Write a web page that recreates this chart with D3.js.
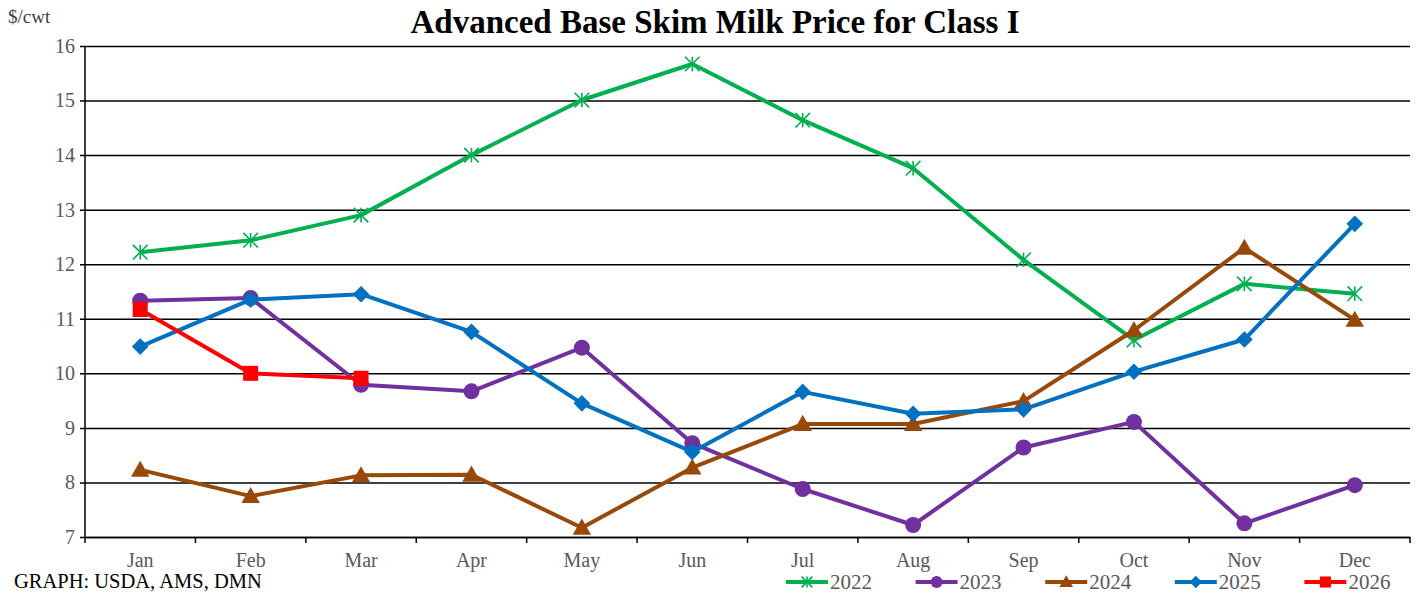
<!DOCTYPE html>
<html><head><meta charset="utf-8">
<script src="https://cdn.jsdelivr.net/npm/d3@7"></script>
<style>body{margin:0;background:#fff}svg{display:block}</style>
</head><body>
<script>
const months = ["Jan","Feb","Mar","Apr","May","Jun","Jul","Aug","Sep","Oct","Nov","Dec"];
const yTicks = [7,8,9,10,11,12,13,14,15,16];
const s2022 = [12.22,12.44,12.90,14.00,15.01,15.67,14.64,13.76,12.08,10.61,11.64,11.46];
const s2023 = [11.33,11.38,9.79,9.67,10.47,8.72,7.88,7.22,8.64,9.11,7.25,7.95];
const s2024 = [8.23,7.75,8.13,8.14,7.17,8.27,9.07,9.07,9.49,10.79,12.30,10.98];
const s2025 = [10.49,11.35,11.45,10.76,9.45,8.56,9.66,9.26,9.34,10.03,10.62,12.74];
const s2026 = [11.17,10.00,9.91];
const seriesNames = ["2022","2023","2024","2025","2026"];
const seriesColors = ["#00B050","#7030A0","#984807","#0070C0","#FF0000"];
const seriesMarkers = ["star","circle","triangle","diamond","square"];
const seriesData = [s2022,s2023,s2024,s2025,s2026];

const W=1424,H=593;
const M={l:85,r:14,t:46,b:56};
const svg=d3.select("body").append("svg").attr("width",W).attr("height",H);
const x=d3.scaleBand().domain(months).range([M.l,W-M.r]);
const y=d3.scaleLinear().domain([7,16]).range([H-M.b,M.t]);
const serif="'Liberation Serif','Times New Roman',serif";

svg.append("text").attr("x",715).attr("y",33).attr("text-anchor","middle")
  .attr("font-family",serif).attr("font-weight","bold").attr("font-size",33).attr("fill","#000")
  .text("Advanced Base Skim Milk Price for Class I");
svg.append("text").attr("x",8).attr("y",23).attr("font-family",serif).attr("font-size",19).attr("fill","#404040").text("$/cwt");

// grid
const yAxis=d3.axisLeft(y).tickValues(yTicks).tickSize(-(W-M.r-M.l)).tickSizeOuter(0).tickPadding(10);
const gy=svg.append("g").attr("transform",`translate(${M.l},0)`).call(yAxis);
gy.select(".domain").remove();
gy.selectAll(".tick line").attr("stroke","#000").attr("stroke-width",1.5).attr("x1",-5);
gy.selectAll(".tick text").attr("font-family",serif).attr("font-size",20).attr("fill","#595959");
svg.append("line").attr("x1",M.l).attr("x2",M.l).attr("y1",M.t).attr("y2",H-M.b).attr("stroke","#000").attr("stroke-width",1.5);

const xAxis=d3.axisBottom(x).tickSize(0).tickPadding(16);
const gx=svg.append("g").attr("transform",`translate(0,${H-M.b})`).call(xAxis);
gx.select(".domain").attr("stroke","#000").attr("stroke-width",1.5);
gx.selectAll(".tick text").attr("font-family",serif).attr("font-size",20).attr("fill","#595959");
const bounds=months.map(m=>x(m)).concat([x(months[months.length-1])+x.bandwidth()]);
gx.selectAll(".bt").data(bounds).enter().append("line")
  .attr("x1",d=>d).attr("x2",d=>d).attr("y1",0).attr("y2",6).attr("stroke","#000").attr("stroke-width",1.5);

function marker(g,type,color,cx,cy,scale){
  scale=scale||1;
  if(type==="star"){
    const r=7.3*scale;
    const segs=[[-r,-r,r,r],[-r,r,r,-r],[0,-r,0,r]];
    segs.forEach(s=>g.append("line").attr("x1",cx+s[0]).attr("y1",cy+s[1]).attr("x2",cx+s[2]).attr("y2",cy+s[3])
      .attr("stroke",color).attr("stroke-width",1.6));
  } else if(type==="circle"){
    g.append("circle").attr("cx",cx).attr("cy",cy).attr("r",8*scale).attr("fill",color);
  } else if(type==="triangle"){
    const s=9.2*scale;
    g.append("path").attr("d",`M${cx},${cy-s}L${cx+s},${cy+s*0.75}L${cx-s},${cy+s*0.75}Z`).attr("fill",color);
  } else if(type==="diamond"){
    const s=8.3*scale;
    g.append("path").attr("d",`M${cx},${cy-s}L${cx+s},${cy}L${cx},${cy+s}L${cx-s},${cy}Z`).attr("fill",color);
  } else if(type==="square"){
    const s=7.5*scale;
    g.append("rect").attr("x",cx-s).attr("y",cy-s).attr("width",2*s).attr("height",2*s).attr("fill",color);
  }
}

const line=d3.line().x((d,i)=>x(months[i])+x.bandwidth()/2).y(d=>y(d));
seriesData.forEach((data,k)=>{
  const g=svg.append("g");
  g.append("path").datum(data).attr("d",line).attr("fill","none")
   .attr("stroke",seriesColors[k]).attr("stroke-width",4).attr("stroke-linejoin","round");
  data.forEach((v,i)=>marker(g,seriesMarkers[k],seriesColors[k],x(months[i])+x.bandwidth()/2,y(v)));
});

svg.append("text").attr("x",14).attr("y",588).attr("font-family",serif).attr("font-size",20.5).attr("fill","#000").text("GRAPH: USDA, AMS, DMN");

// legend
const lx0=786, lstep=129.6, ly=582;
seriesNames.forEach((n,k)=>{
  const g=svg.append("g");
  const x0=lx0+k*lstep;
  g.append("line").attr("x1",x0).attr("x2",x0+42).attr("y1",ly).attr("y2",ly).attr("stroke",seriesColors[k]).attr("stroke-width",4);
  marker(g,seriesMarkers[k],seriesColors[k],x0+21,ly,0.74);
  g.append("text").attr("x",x0+44).attr("y",ly+6.5).attr("font-family",serif).attr("font-size",21).attr("fill","#595959").text(n);
});
</script>
</body></html>
